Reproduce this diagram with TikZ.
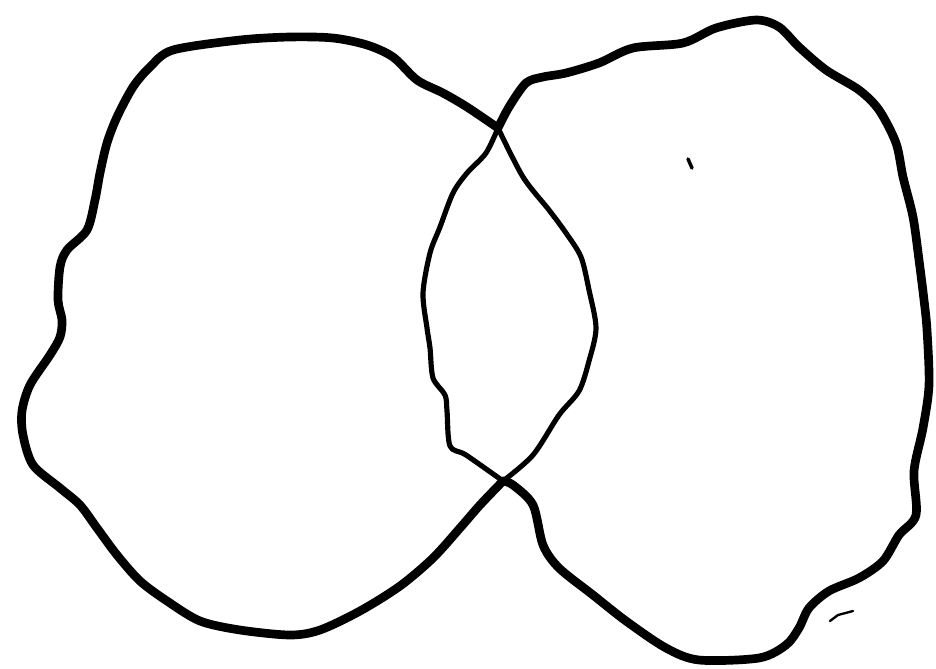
\documentclass[tikz,border=0pt]{standalone}
\usetikzlibrary{positioning}

\begin{document}
\begin{tikzpicture}[
  x=0.03cm, y=-0.03cm,
  rim/.style={draw=black, line width=7.4pt, line cap=round, line join=round},
  seam/.style={draw=black, line width=4.4pt, line cap=round, line join=round},
  speck/.style={draw=black, line width=2pt, line cap=round}
]
\useasboundingbox (0,0) rectangle (936,668);

% where the two outlines cross
\coordinate (topX) at (498,128);
\coordinate (botX) at (503,481);

% left set
\draw[rim] plot[smooth] coordinates {(topX) (467,107) (443,93) (417,80) (393,57) (367,45)
  (333,38) (290,37) (240,40) (173,50) (150,67) (133,87) (117,117) (107,143) (100,173)
  (95,200) (87,230) (67,250) (60,267) (58,300) (62,320) (60,337) (50,355) (30,385)
  (22,411) (23,435) (33,465) (60,488) (80,505) (97,528) (117,555) (140,581) (167,601)
  (200,621) (240,630) (290,635) (320,630) (360,611) (400,586) (433,558) (460,528)
  (480,505) (botX)};
\draw[seam] plot[smooth] coordinates {(topX) (523,177) (549,210) (566,233) (581,257)
  (589,290) (596,328) (589,361) (579,391) (559,415) (533,455) (botX)};

% right set
\draw[rim] plot[smooth] coordinates {(topX) (509,107) (526,83) (543,77) (566,73) (599,63)
  (633,48) (683,43) (716,28) (756,20) (779,27) (799,47) (826,70) (859,90) (879,110)
  (896,143) (903,177) (913,217) (919,260) (924,300) (927,330) (929,385) (923,428)
  (914,471) (916,515) (899,535) (883,561) (859,578) (829,591) (809,608) (799,628)
  (786,645) (759,658) (699,660) (666,648) (626,621) (593,595) (559,568) (543,545)
  (533,505) (513,485) (botX)};
\draw[seam] plot[smooth] coordinates {(botX) (466,455) (450,446) (447,411) (445,395)
  (433,378) (430,348) (427,328) (423,293) (430,253) (440,227) (453,193) (467,173)
  (486,153) (topX)};

% stray marks
\draw[speck, line width=3pt] (688,159) -- (692,168);
\draw[speck] (830,621) -- (838,615) -- (853,611);
\end{tikzpicture}
\end{document}
